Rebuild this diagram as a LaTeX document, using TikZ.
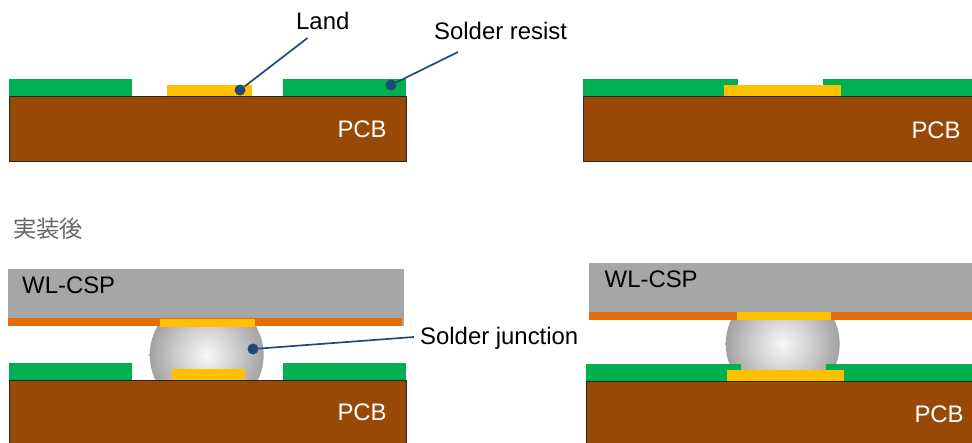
\documentclass[tikz,border=0pt]{standalone}
\usepackage{fontspec}
\setmainfont{Liberation Sans}
\newfontfamily\cjkfont{Noto Sans CJK JP}
\definecolor{pcbbrown}{HTML}{984807}
\definecolor{resistgreen}{HTML}{00B050}
\definecolor{landyellow}{HTML}{FFC000}
\definecolor{chipgray}{HTML}{A6A6A6}
\definecolor{padorange}{HTML}{E36C0A}
\definecolor{leaderblue}{HTML}{1F497D}
\definecolor{ballin}{HTML}{F8F8F8}
\definecolor{ballmid}{HTML}{CFCFCF}
\definecolor{ballout}{HTML}{A2A2A2}
\pgfdeclareradialshading{solderball}{\pgfpoint{0bp}{0bp}}{color(0bp)=(ballin); color(12.5bp)=(ballmid); color(25bp)=(ballout); color(50bp)=(ballout)}
\tikzset{
  pcb/.style={fill=pcbbrown,draw=black!85,line width=0.9pt},
  resist/.style={fill=resistgreen},
  land/.style={fill=landyellow},
  chip/.style={fill=chipgray},
  pad/.style={fill=padorange},
  ball/.style={shading=solderball},
  lbl/.style={inner sep=0pt,anchor=base west,font=\fontsize{23.9}{26}\selectfont},
  dot/.style={circle,fill=leaderblue,inner sep=0pt,minimum size=11pt},
  leader/.style={draw=leaderblue,line width=1.7pt}
}
\begin{document}
\begin{tikzpicture}[x=1pt,y=-1pt]
\useasboundingbox (0,0) rectangle (972,443);
% top left
\path[pcb] (9.5,96) rectangle (406,161.5);
\path[resist] (9,79) rectangle (132,95.6);
\path[resist] (283,79) rectangle (406,95.6);
\path[land] (167,85) rectangle (252,96);
% top right
\path[pcb] (583.5,96) rectangle (975,161.5);
\path[resist] (583,79) rectangle (738,95.6);
\path[resist] (823,79) rectangle (972,95.6);
\path[land] (724.3,85) rectangle (841,96);
% bottom left
\path[ball] (206.7,355) circle[radius=57];
\path[chip] (8,269) rectangle (404,326);
\path[pad] (8,318) rectangle (402,326);
\path[land] (160.3,319) rectangle (255,327);
\path[pcb] (9.5,380) rectangle (406,447);
\path[resist] (9,362.7) rectangle (132,379.6);
\path[resist] (283,362.7) rectangle (406,379.6);
\path[land] (171.7,369.3) rectangle (245.3,380);
% bottom right
\path[ball] (782.7,344) circle[radius=57];
\path[chip] (589,263) rectangle (972,320);
\path[pad] (589,312) rectangle (972,320);
\path[land] (736.7,312) rectangle (831.3,320);
\path[pcb] (586.5,381.5) rectangle (975,447);
\path[resist] (586,364.3) rectangle (740.7,381.1);
\path[resist] (825.7,364.3) rectangle (972,381.1);
\path[land] (727,370.3) rectangle (843.7,381.5);
% labels
\node[lbl] (landlabel) at (296,29.3) {Land};
\node[lbl] (resistlabel) at (434,39.3) {Solder resist};
\node[lbl] (junctionlabel) at (420,344.3) {Solder junction};
\node[lbl,text=white] (pcba) at (337.3,137.8) {PCB};
\node[lbl,text=white] (pcbb) at (911.3,138.3) {PCB};
\node[lbl,text=white] (pcbc) at (337.3,420.5) {PCB};
\node[lbl,text=white] (pcbd) at (914.3,422.8) {PCB};
\node[lbl] (cspa) at (22,293.3) {WL-CSP};
\node[lbl] (cspb) at (604.5,287.7) {WL-CSP};
\node[anchor=base west,inner sep=0pt,text=black!60,font=\cjkfont\fontsize{23.3}{26}\selectfont] (after) at (13,237.5) {実装後};
% leaders
\node[dot] (landdot) at (240,90) {};
\node[dot] (resistdot) at (391,85) {};
\node[dot] (junctiondot) at (253,349) {};
\coordinate (landend) at (307.5,38);
\coordinate (resistend) at (458,52);
\coordinate (junctionend) at (414,337);
\draw[leader] (landdot) -- (landend);
\draw[leader] (resistdot) -- (resistend);
\draw[leader] (junctiondot) -- (junctionend);
\end{tikzpicture}
\end{document}
